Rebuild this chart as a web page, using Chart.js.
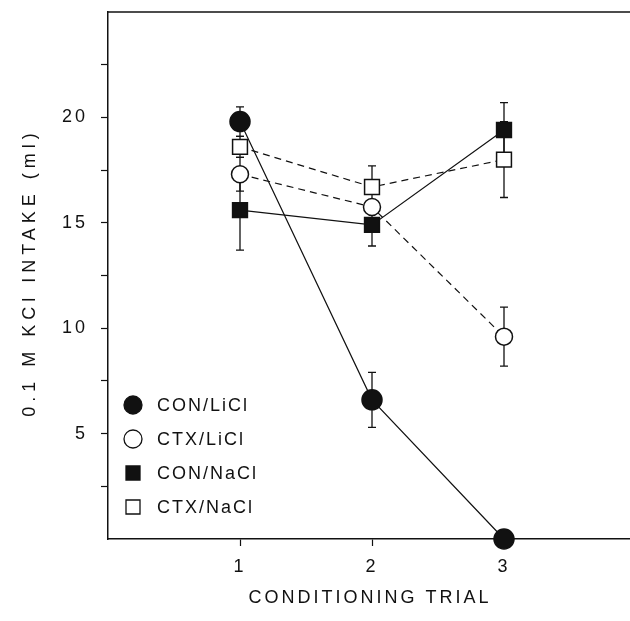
<!DOCTYPE html>
<html>
<head>
<meta charset="utf-8">
<script src="https://cdn.jsdelivr.net/npm/chart.js@4.4.0/dist/chart.umd.min.js"></script>
<style>
  html, body { margin: 0; padding: 0; background: #fff; overflow: hidden; }
  #wrap { width: 648px; height: 621px; }
</style>
</head>
<body>
<div id="wrap"><canvas id="chart" width="648" height="621"></canvas></div>
<script>
// data
const trials = [1, 2, 3];
const groups = ["CON/LiCl", "CTX/LiCl", "CON/NaCl", "CTX/NaCl"];

const conLiCl = [19.8, 6.6, 0];
const conLiClErr = [0.7, 1.3, 0];
const ctxLiCl = [17.3, 15.75, 9.6];
const ctxLiClErr = [0.8, 0.2, 1.4];
const conNaCl = [15.6, 14.9, 19.4];
const conNaClErr = [1.9, 1.0, 1.3];
const ctxNaCl = [18.6, 16.7, 18.0];
const ctxNaClErr = [0.5, 1.0, 1.8];

const yLabels = [5, 10, 15, 20];
const xTitle = "CONDITIONING TRIAL";
const yTitle = "0.1 M KCl INTAKE (ml)";

const FONT = "'Liberation Sans', Arial, sans-serif";
const INK = "#111";

function pts(values) {
  return trials.map((t, i) => ({ x: t, y: values[i] }));
}

function series(label, values, errs, style, filled, radius, dashed) {
  return {
    label: label,
    data: pts(values),
    errs: errs,
    borderColor: INK,
    borderWidth: 1.2,
    borderDash: dashed ? [7, 5] : [],
    pointStyle: style,
    pointRadius: radius,
    pointHoverRadius: radius,
    pointBackgroundColor: filled ? INK : "#fff",
    pointBorderColor: INK,
    pointBorderWidth: 1.5,
    tension: 0,
    clip: false,
  };
}

const datasets = [
  series(groups[0], conLiCl, conLiClErr, "circle", true, 10, false),
  series(groups[1], ctxLiCl, ctxLiClErr, "circle", false, 8.5, true),
  series(groups[2], conNaCl, conNaClErr, "rect", true, 10.5, false),
  series(groups[3], ctxNaCl, ctxNaClErr, "rect", false, 10.5, true),
];

const errorBars = {
  id: "errorBars",
  beforeDatasetsDraw(chart) {
    const { ctx, scales } = chart;
    ctx.save();
    ctx.strokeStyle = INK;
    ctx.lineWidth = 1.3;
    chart.data.datasets.forEach((ds) => {
      ds.data.forEach((p, i) => {
        const e = ds.errs[i];
        if (!e) return;
        const x = scales.x.getPixelForValue(p.x);
        const y1 = scales.y.getPixelForValue(p.y + e);
        const y2 = scales.y.getPixelForValue(p.y - e);
        ctx.beginPath();
        ctx.moveTo(x, y1); ctx.lineTo(x, y2);
        ctx.moveTo(x - 4, y1); ctx.lineTo(x + 4, y1);
        ctx.moveTo(x - 4, y2); ctx.lineTo(x + 4, y2);
        ctx.stroke();
      });
    });
    ctx.restore();
  },
};

const decor = {
  id: "decor",
  beforeDraw(chart) {
    // spacing for the tick labels
    chart.ctx.letterSpacing = "3px";
  },
  afterDraw(chart) {
    const { ctx, chartArea } = chart;
    ctx.save();
    // top frame line, the right edge runs off the page
    ctx.strokeStyle = INK;
    ctx.lineWidth = 1.5;
    ctx.beginPath();
    ctx.moveTo(chartArea.left, chartArea.top);
    ctx.lineTo(chart.width, chartArea.top);
    ctx.stroke();

    ctx.fillStyle = INK;
    ctx.textBaseline = "middle";

    // axis titles
    ctx.font = "18px " + FONT;
    ctx.textAlign = "center";
    ctx.letterSpacing = "3px";
    ctx.fillText(xTitle, 370, chartArea.bottom + 59);
    ctx.save();
    ctx.translate(chartArea.left - 78, (chartArea.top + chartArea.bottom) / 2 - 3);
    ctx.rotate(-Math.PI / 2);
    ctx.letterSpacing = "5px";
    ctx.fillText(yTitle, 0, 0);
    ctx.restore();

    // legend in the lower left of the plot
    const lx = chartArea.left + 25;
    const ly = chartArea.bottom - 134;
    ctx.font = "18px " + FONT;
    ctx.textAlign = "left";
    ctx.letterSpacing = "2px";
    chart.data.datasets.forEach((ds, i) => {
      const y = ly + i * 34;
      ctx.lineWidth = 1.3;
      ctx.strokeStyle = INK;
      ctx.fillStyle = ds.pointBackgroundColor;
      ctx.beginPath();
      if (ds.pointStyle === "circle") {
        ctx.arc(lx, y, 9, 0, Math.PI * 2);
      } else {
        ctx.rect(lx - 7, y - 7, 14, 14);
      }
      ctx.fill();
      ctx.stroke();
      ctx.fillStyle = INK;
      ctx.fillText(ds.label, lx + 24, y + 1);
    });
    ctx.restore();
  },
};

new Chart(document.getElementById("chart"), {
  type: "line",
  data: { datasets: datasets },
  plugins: [errorBars, decor],
  options: {
    responsive: false,
    animation: false,
    events: [],
    layout: { padding: { top: 11, right: 4, left: 0, bottom: 0 } },
    plugins: { legend: { display: false }, tooltip: { enabled: false } },
    scales: {
      x: {
        type: "linear",
        min: 0,
        max: 4,
        afterFit: (s) => {
          s.height = 82;
          s.paddingLeft = 0;
          s.paddingRight = 0;
        },
        afterBuildTicks: (s) => { s.ticks = trials.map((v) => ({ value: v })); },
        grid: { drawOnChartArea: false, tickLength: 7, color: INK, tickWidth: 1.2 },
        border: { color: INK, width: 1.5 },
        ticks: {
          color: INK,
          padding: 10,
          font: { family: FONT, size: 18 },
        },
      },
      y: {
        min: 0,
        max: 25,
        afterFit: (s) => {
          s.width = 108;
          s.paddingTop = 0;
          s.paddingBottom = 0;
        },
        afterBuildTicks: (s) => {
          s.ticks = [2.5, 5, 7.5, 10, 12.5, 15, 17.5, 20, 22.5].map((v) => ({ value: v }));
        },
        grid: { drawOnChartArea: false, tickLength: 7, color: INK, tickWidth: 1.2 },
        border: { color: INK, width: 1.5 },
        ticks: {
          color: INK,
          padding: 13,
          font: { family: FONT, size: 18 },
          callback: (v) => (yLabels.includes(v) ? String(v) : ""),
        },
      },
    },
  },
});
</script>
</body>
</html>
